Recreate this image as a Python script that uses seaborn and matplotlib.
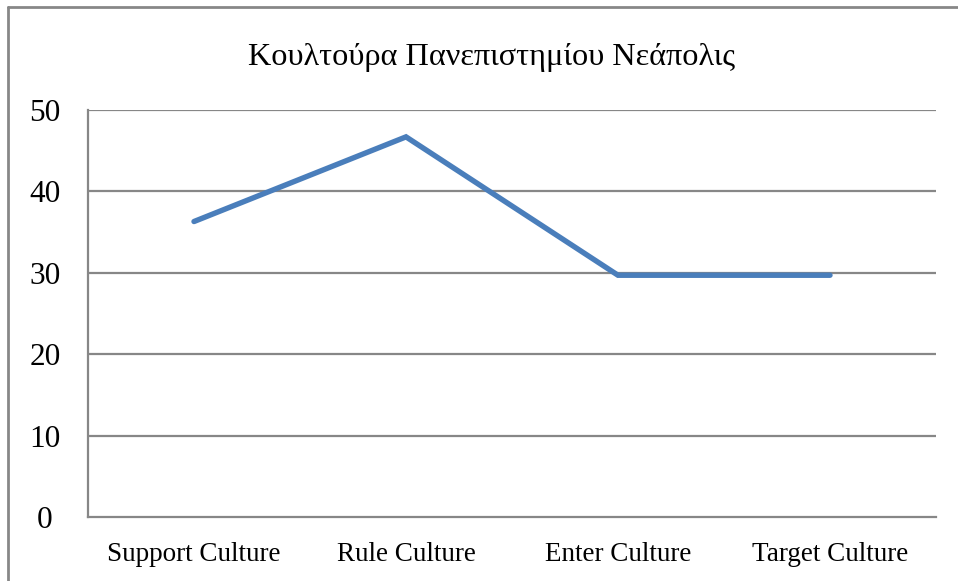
import matplotlib
matplotlib.use("Agg")
import matplotlib.pyplot as plt
from matplotlib.lines import Line2D
import seaborn as sns
import pandas as pd

# data
categories = ["Support Culture", "Rule Culture", "Enter Culture", "Target Culture"]
scores = [36.3, 46.7, 29.7, 29.7]
y_ticks = [0, 10, 20, 30, 40, 50]
title = "Κουλτούρα Πανεπιστημίου Νεάπολις"

df = pd.DataFrame({"culture": categories, "score": scores})

sns.set_style("white")
plt.rcParams['font.family'] = ['Liberation Serif', 'DejaVu Serif']
plt.rcParams['text.color'] = 'black'
plt.rcParams['xtick.color'] = 'black'
plt.rcParams['ytick.color'] = 'black'

W, H = 958, 581
fig = plt.figure(figsize=(W / 100, H / 100), dpi=100)
# plot area in pixels: left 88, right 936, top 110, bottom 517
ax = fig.add_axes([88 / W, 1 - 517 / H, (936 - 88) / W, (517 - 110) / H])

grid_col = "#878787"
line_col = "#4a7ebb"

sns.lineplot(data=df, x="culture", y="score", ax=ax, color=line_col,
             linewidth=3.9, sort=False, solid_capstyle="round",
             solid_joinstyle="miter")

ax.set_xlim(-0.5, 3.5)
ax.set_ylim(0, 50)
ax.set_yticks(y_ticks)
ax.set_yticklabels([str(t) for t in y_ticks], fontsize=22.5)
ax.tick_params(axis="x", labelsize=19.5, length=0, pad=18)
ax.tick_params(axis="y", length=0, pad=31)
for lbl in ax.get_yticklabels():
    lbl.set_horizontalalignment("center")
ax.set_xlabel("")
ax.set_ylabel("")

# horizontal gridlines
for t in y_ticks[1:]:
    ax.axhline(t, color=grid_col, linewidth=1.6, zorder=0)

for s in ["top", "right"]:
    ax.spines[s].set_visible(False)
for s in ["left", "bottom"]:
    ax.spines[s].set_color(grid_col)
    ax.spines[s].set_linewidth(1.6)

fig.text(492 / W, 1 - 58 / H, title, ha="center", va="center", fontsize=23.2)

# outer chart border (only top and left visible in the crop)
fig.add_artist(Line2D([8 / W, 8 / W], [1 - 7 / H, 0], color=grid_col,
                      linewidth=2, transform=fig.transFigure))
fig.add_artist(Line2D([8 / W, 1], [1 - 7 / H, 1 - 7 / H], color=grid_col,
                      linewidth=2, transform=fig.transFigure))

fig.savefig("out.png", dpi=100)
